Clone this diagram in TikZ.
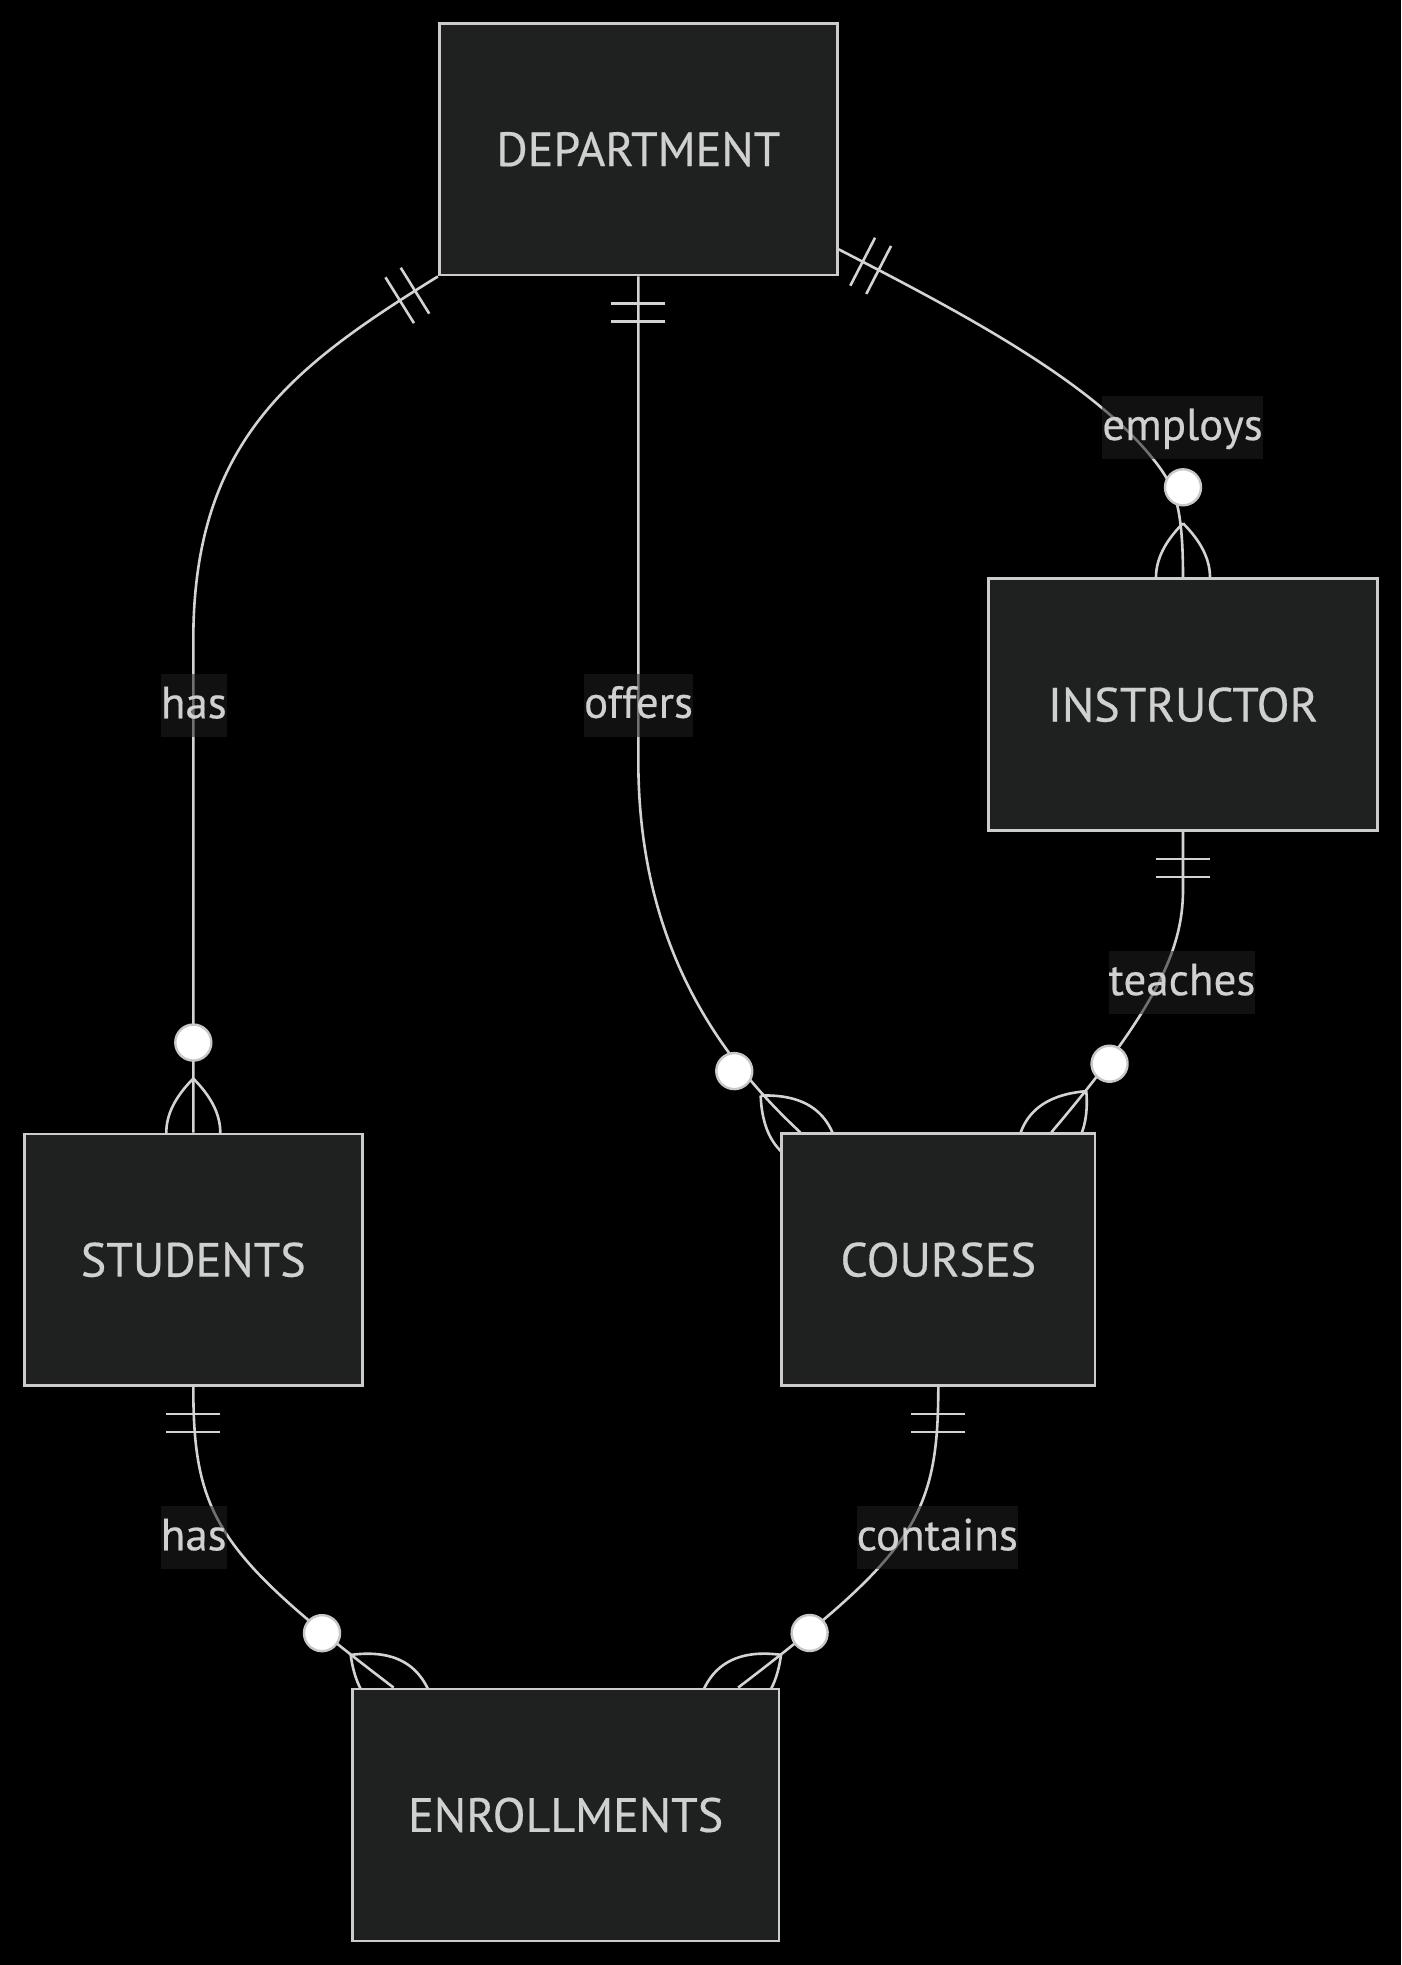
\documentclass[tikz,border=0pt]{standalone}
\usepackage{fontspec}
\setmainfont{PT Sans}[FakeBold=0.4]
\usetikzlibrary{calc}
\pgfdeclarelayer{back}
\pgfdeclarelayer{edges}
\pgfsetlayers{back,edges,main}
\definecolor{boxfill}{HTML}{1F2020}
\definecolor{boxline}{HTML}{CCCCCC}
\definecolor{fg}{HTML}{D0D0D0}
\definecolor{edgecol}{HTML}{D3D3D3}
\definecolor{lblbg}{HTML}{1F1F1F}
\definecolor{circline}{HTML}{C8C8C8}
\tikzset{
  entity/.style={draw=boxline, fill=boxfill, line width=2.8pt, inner sep=0pt,
    text=fg, font=\fontsize{48}{58}\selectfont},
  lbl/.style={fill=lblbg, fill opacity=0.55, text opacity=1, text=fg,
    inner xsep=0pt, inner ysep=0pt, text height=44.3pt, text depth=18.7pt,
    font=\fontsize{45}{54}\selectfont},
  edge/.style={draw=edgecol, line width=2.6pt},
  circmark/.style={fill=white, draw=circline, line width=2.4pt}
}
% zero-or-more marker at the end of a connector: #1 end point, (#2,#3) direction into the entity
\newcommand\ermany[3]{%
  \begin{scope}[shift={(#1)}, x={({(#2)*1pt},{-(#3)*1pt})}, y={({-(#3)*1pt},{-(#2)*1pt})}]
    \draw[edge] (-54,0) .. controls (-18,-36) and (18,-36) .. (54,0)
                        .. controls (18,36) and (-18,36) .. (-54,0);
    \draw[circmark] (-90,0) circle[radius=18];
  \end{scope}}
% exactly-one marker at the start of a connector: #1 start point, (#2,#3) direction out of the entity
\newcommand\erone[3]{%
  \begin{scope}[shift={(#1)}, x={({(#2)*1pt},{-(#3)*1pt})}, y={({-(#3)*1pt},{-(#2)*1pt})}]
    \draw[edge] (27,-27) -- (27,27) (45,-27) -- (45,27);
  \end{scope}}
\begin{document}
\begin{tikzpicture}[x=1pt,y=-1pt]
\begin{pgfonlayer}{back}
  \fill[black] (0,0) rectangle (1401,1965);
\end{pgfonlayer}
\useasboundingbox (0,0) rectangle (1401,1965);

% entities
\node[entity, minimum width=398pt, minimum height=251.7pt] (dept) at (638.3,149.2) {DEPARTMENT};
\node[entity, minimum width=388.5pt, minimum height=252pt] (ins) at (1183,704.7) {INSTRUCTOR};
\node[entity, minimum width=338.3pt, minimum height=251.7pt] (stu) at (193.3,1259.8) {STUDENTS};
\node[entity, minimum width=313.3pt, minimum height=252pt] (cou) at (938.3,1259.7) {COURSES};
\node[entity, minimum width=426.7pt, minimum height=252pt] (enr) at (565.7,1815) {ENROLLMENTS};

% connector waypoints
\coordinate (e1m) at (193.3,640);
\coordinate (e2m) at (638.3,760);
\coordinate (e2e) at ($(cou.north west)+(20,0)$);
\coordinate (e3s) at ($(dept.north east)+(0,227.4)$);
\coordinate (e3m) at (1160,468);
\coordinate (e4m) at (1183,890);
\coordinate (e4e) at ($(cou.north east)+(-45,0)$);
\coordinate (e5e) at ($(enr.north west)+(42.7,0)$);
\coordinate (e6e) at ($(enr.north east)+(-42.3,0)$);

\begin{pgfonlayer}{edges}
  \draw[edge] (dept.south west) .. controls +(-144.3,89.5) and +(0,-200) .. (e1m) -- (stu.north);
  \draw[edge] (dept.south) -- (e2m) .. controls +(0,150) and +(-110,-102) .. (e2e);
  \draw[edge] (e3s) .. controls +(122.7,63.3) and +(-60,-83) .. (e3m)
                    .. controls +(15,21) and +(0,-68.7) .. (ins.north);
  \draw[edge] (ins.south) -- (e4m) .. controls +(0,60) and +(103.5,-121.9) .. (e4e);
  \draw[edge] (stu.south) .. controls +(0,130) and +(-175.1,-133.1) .. (e5e);
  \draw[edge] (cou.south) .. controls +(0,130) and +(174.7,-133.5) .. (e6e);

  \erone{dept.south west}{-0.849}{0.528}
  \ermany{stu.north}{0}{1}
  \erone{dept.south}{0}{1}
  \ermany{e2e}{0.733}{0.680}
  \erone{e3s}{0.888}{0.458}
  \ermany{ins.north}{0}{1}
  \erone{ins.south}{0}{1}
  \ermany{e4e}{-0.647}{0.762}
  \erone{stu.south}{0}{1}
  \ermany{e5e}{0.796}{0.605}
  \erone{cou.south}{0}{1}
  \ermany{e6e}{-0.794}{0.607}
\end{pgfonlayer}

% relationship labels
\node[lbl] (l1) at (193.8,705.5) {has};
\node[lbl] (l2) at (638.5,705) {offers};
\node[lbl] (l3) at (1182.5,427.2) {employs};
\node[lbl] (l4) at (1182,982.3) {teaches};
\node[lbl] (l5) at (193.7,1537.5) {has};
\node[lbl] (l6) at (937.3,1537.5) {contains};
\end{tikzpicture}
\end{document}
